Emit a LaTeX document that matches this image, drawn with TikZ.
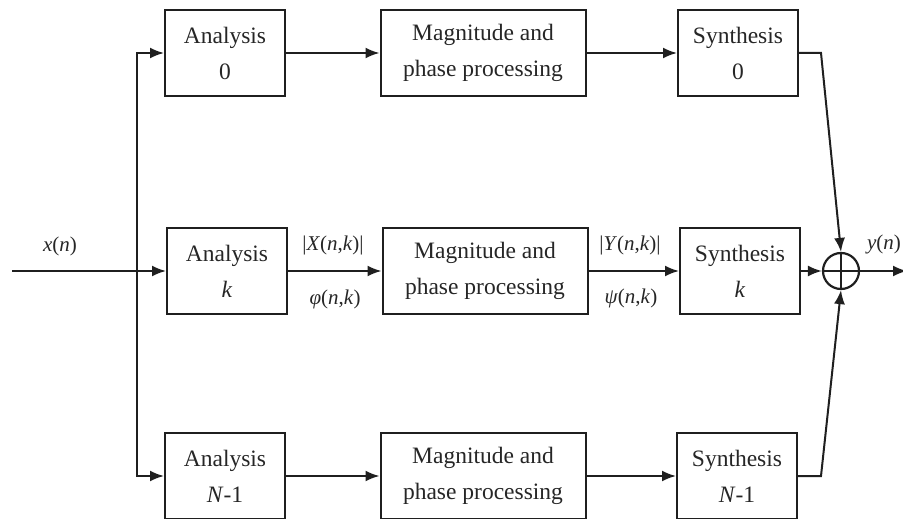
\documentclass[tikz,border=0pt]{standalone}
\usepackage{fontspec}
\setmainfont{Liberation Serif}
\usetikzlibrary{arrows.meta}
\begin{document}
\begin{tikzpicture}[x=1pt,y=-1pt,
  blk/.style={draw=black!88, line width=2pt, minimum height=86pt, align=center,
    font=\fontsize{23.5}{36}\selectfont, inner sep=0pt, text=black!85},
  ana/.style={blk, minimum width=120pt},
  mag/.style={blk, minimum width=205pt},
  conn/.style={draw=black!88, line width=2pt, -{Latex[length=14pt,width=11pt]}},
  wire/.style={draw=black!88, line width=2pt},
  lbl/.style={font=\fontsize{21}{24}\selectfont, inner sep=0pt, text=black!85},
  sumnode/.style={circle, draw=black!88, line width=2.2pt, minimum size=36pt, inner sep=0pt}]
\useasboundingbox (0,0) rectangle (903,519);
% top row
\node[ana] (a0) at (225,53) {Analysis\\0};
\node[mag] (m0) at (483,53) {Magnitude and\\phase processing};
\node[ana] (s0) at (738,53) {Synthesis\\0};
% middle row
\node[ana] (ak) at (227,271) {Analysis\\\textit{k}};
\node[mag] (mk) at (485,271) {Magnitude and\\phase processing};
\node[ana] (sk) at (740,271) {Synthesis\\\textit{k}};
% bottom row
\node[ana] (aN) at (225,476) {Analysis\\\textit{N}-1};
\node[mag] (mN) at (483,476) {Magnitude and\\phase processing};
\node[ana] (sN) at (737,476) {Synthesis\\\textit{N}-1};
% summer
\node[sumnode] (sum) at (841,271) {};
\draw[wire] (sum.north) -- (sum.south);
\draw[wire] (sum.west) -- (sum.east);
% coordinates
\coordinate (in) at (12,271);
\coordinate (split) at (137,271);
\coordinate (b0) at (821,53);
\coordinate (bN) at (821,476);
\coordinate (out) at (907,271);
% input & branches
\draw[conn] (in) -- (ak.west);
\draw[conn] (split) |- (a0.west);
\draw[conn] (split) |- (aN.west);
% rows
\draw[conn] (a0.east) -- (m0.west);
\draw[conn] (m0.east) -- (s0.west);
\draw[conn] (ak.east) -- (mk.west);
\draw[conn] (mk.east) -- (sk.west);
\draw[conn] (aN.east) -- (mN.west);
\draw[conn] (mN.east) -- (sN.west);
% to summer
\draw[conn] (s0.east) -- (b0) -- (sum.north);
\draw[conn] (sN.east) -- (bN) -- (sum.south);
\draw[conn] (sk.east) -- (sum.west);
\draw[conn] (sum.east) -- (out);
% labels
\node[lbl] (xn) at (60,246) {\textit{x}(\textit{n})};
\node[lbl] (yn) at (884,244) {\textit{y}(\textit{n})};
\node[lbl] (Xl) at (333,245) {|\textit{X}(\textit{n},\textit{k})|};
\node[lbl] (pl) at (335,299) {\textit{φ}(\textit{n},\textit{k})};
\node[lbl] (Yl) at (630,245) {|\textit{Y}(\textit{n},\textit{k})|};
\node[lbl] (ql) at (631,298) {\textit{ψ}(\textit{n},\textit{k})};
\end{tikzpicture}
\end{document}
